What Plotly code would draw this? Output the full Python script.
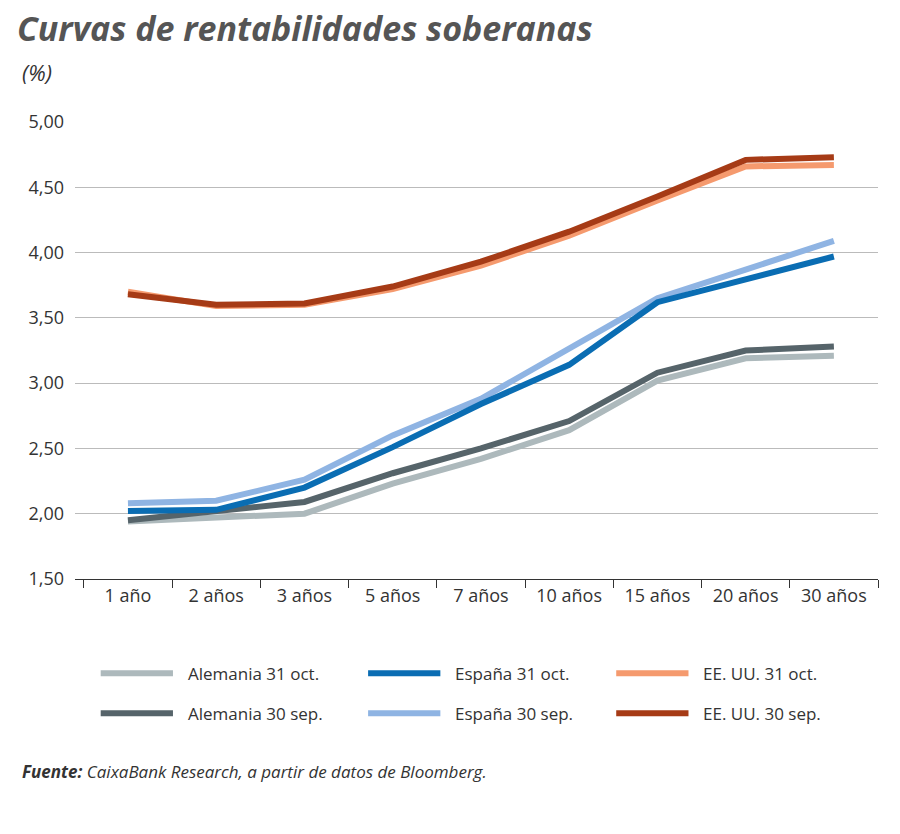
import plotly.graph_objects as go

# Data
plazos = ["1 año", "2 años", "3 años", "5 años", "7 años", "10 años", "15 años", "20 años", "30 años"]
alemania_oct = [1.94, 1.97, 2.00, 2.23, 2.42, 2.64, 3.02, 3.19, 3.21]
alemania_sep = [1.95, 2.02, 2.09, 2.31, 2.50, 2.71, 3.08, 3.25, 3.28]
espana_sep = [2.08, 2.10, 2.26, 2.60, 2.88, 3.26, 3.65, 3.87, 4.09]
espana_oct = [2.02, 2.03, 2.20, 2.51, 2.84, 3.14, 3.62, 3.80, 3.97]
eeuu_oct = [3.70, 3.59, 3.60, 3.72, 3.90, 4.13, 4.40, 4.66, 4.67]
eeuu_sep = [3.68, 3.60, 3.61, 3.74, 3.93, 4.16, 4.43, 4.71, 4.73]
y_ticks = [1.5, 2.0, 2.5, 3.0, 3.5, 4.0, 4.5, 5.0]

FONT = "Liberation Sans Narrow, Open Sans, sans-serif"
TEXT = "#333333"

# name, values, colour, legend column, legend row
series = [
    ("Alemania 31 oct.", alemania_oct, "#adb9bc", 0, 0),
    ("Alemania 30 sep.", alemania_sep, "#56646a", 0, 1),
    ("España 30 sep.", espana_sep, "#8fb4e3", 1, 1),
    ("España 31 oct.", espana_oct, "#0a6db3", 1, 0),
    ("EE. UU. 31 oct.", eeuu_oct, "#f59a6e", 2, 0),
    ("EE. UU. 30 sep.", eeuu_sep, "#a63b16", 2, 1),
]

fig = go.Figure()
for name, vals, color, _, _ in series:
    fig.add_trace(go.Scatter(x=plazos, y=vals, mode="lines", name=name,
                             line=dict(color=color, width=6), showlegend=False))

# Custom legend below the plot
col_x = [0.032, 0.365, 0.674]
row_y = [-0.206, -0.294]
for name, _, color, c, r in series:
    fig.add_shape(type="line", xref="paper", yref="paper",
                  x0=col_x[c], x1=col_x[c] + 0.09, y0=row_y[r], y1=row_y[r],
                  line=dict(color=color, width=6))
    fig.add_annotation(xref="paper", yref="paper", x=col_x[c] + 0.106, y=row_y[r],
                       text=name, showarrow=False, xanchor="left", yanchor="middle",
                       font=dict(size=17, color=TEXT, family=FONT))

fig.add_annotation(xref="paper", yref="paper", x=-0.068, y=-0.421,
                   xanchor="left", yanchor="middle",
                   text="<b><i>Fuente:</i></b><i> CaixaBank Research, a partir de datos de Bloomberg.</i>",
                   showarrow=False, font=dict(size=17, color=TEXT, family=FONT))
fig.add_annotation(xref="paper", yref="paper", x=-0.075, y=1.206,
                   xanchor="left", yanchor="middle",
                   text="<b><i>Curvas de rentabilidades soberanas</i></b>",
                   showarrow=False, font=dict(size=34, color="#555555", family=FONT))
fig.add_annotation(xref="paper", yref="paper", x=-0.068, y=1.11,
                   xanchor="left", yanchor="middle",
                   text="<i>(%)</i>", showarrow=False,
                   font=dict(size=22, color=TEXT, family=FONT))

fig.update_layout(
    width=900, height=834,
    margin=dict(l=67, r=30, t=114, b=263),
    paper_bgcolor="white", plot_bgcolor="white",
    separators=",.",
    font=dict(family=FONT, size=18, color=TEXT),
    xaxis=dict(showgrid=False, showline=True, linecolor="#333", linewidth=1,
               ticks="outside", tickson="boundaries", ticklen=8, tickcolor="#333",
               range=[-0.6, 8.5]),
    yaxis=dict(range=[1.5, 5.0], tickvals=y_ticks, tickformat=".2f",
               showgrid=True, gridcolor="#bbbbbb", gridwidth=1, zeroline=False,
               ticks="", ticklabelstandoff=10),
)

fig.write_html("out.html")
